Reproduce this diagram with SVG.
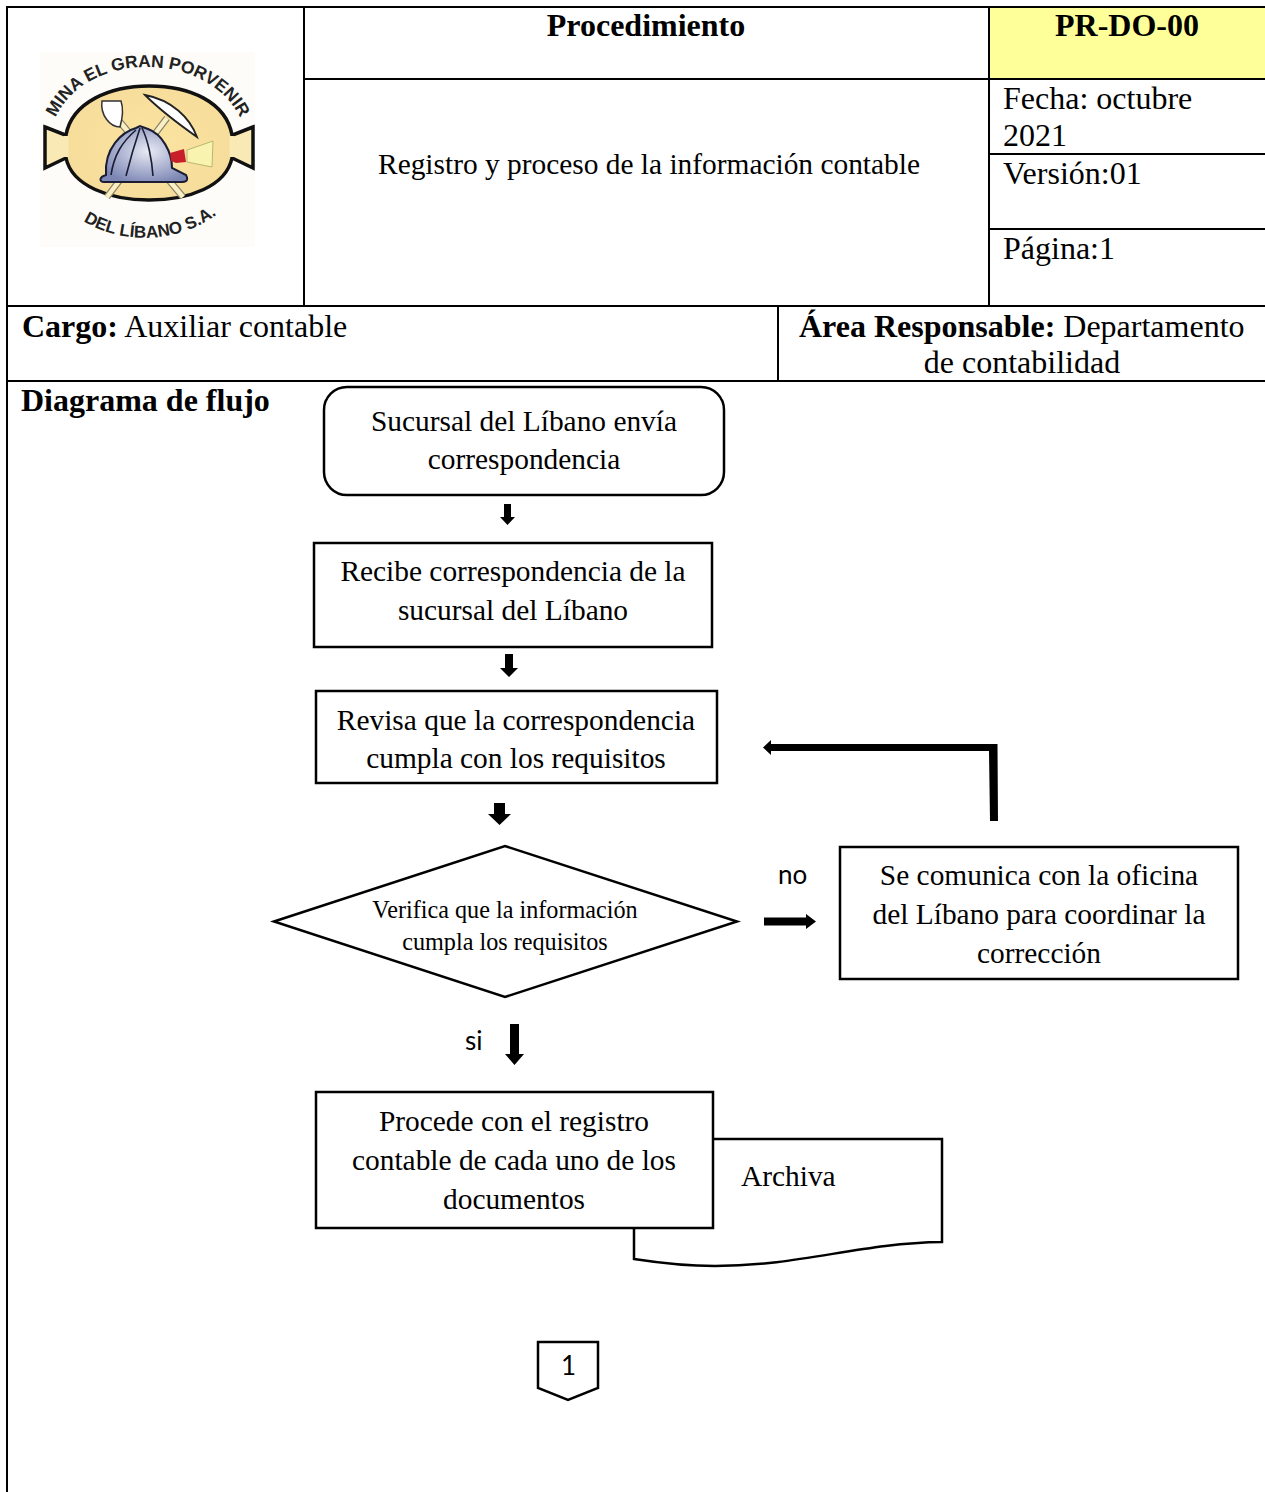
<svg xmlns="http://www.w3.org/2000/svg" width="1265" height="1492" viewBox="0 0 1265 1492">
<style>
.t{font-family:"Liberation Serif","Times New Roman",serif;font-size:29.4px;fill:#000}
.h{font-size:32px}
.m{text-anchor:middle}
.b{font-weight:bold}
.c{font-family:Lato,"Liberation Sans",sans-serif;font-size:26px;fill:#000}
.g{stroke:#000;stroke-width:2;fill:none}
.n{stroke:#000;stroke-width:2.5;fill:#fff}
.lg{font-family:"Liberation Sans",Arial,sans-serif;font-weight:bold;font-size:17.4px;fill:#222}
</style>
<defs>
<radialGradient id="gold" cx="0.5" cy="0.5" r="0.6"><stop offset="0" stop-color="#fbe3a0"/><stop offset="1" stop-color="#f6dc9a"/></radialGradient>
<radialGradient id="hat" cx="0.55" cy="0.45" r="0.6"><stop offset="0" stop-color="#e8eaf4"/><stop offset="1" stop-color="#7c86b4"/></radialGradient>
<path id="topArc" d="M53 124 C80 48 213 48 243 124"/>
<path id="botArc" d="M80 219 C120 246 180 244 220 212"/>
</defs>
<rect width="1265" height="1492" fill="#fff"/>
<g id="table" class="g">
<path d="M7 1492V7H1265"/>
<path d="M304 7V306"/>
<path d="M989 7V306"/>
<path d="M304 79H1265"/>
<path d="M989 154H1265"/>
<path d="M989 229H1265"/>
<path d="M7 306H1265"/>
<path d="M778 306V381"/>
<path d="M7 381H1265"/>
</g>
<rect x="990" y="8" width="275" height="70" fill="#ffff99"/>
<g id="header-text">
<text class="t h b m" x="646" y="36">Procedimiento</text>
<text class="t h b m" x="1127" y="36">PR-DO-00</text>
<text class="t m" x="649" y="174">Registro y proceso de la información contable</text>
<text class="t h" x="1003" y="109">Fecha: octubre</text>
<text class="t h" x="1003" y="146">2021</text>
<text class="t h" x="1003" y="184">Versión:01</text>
<text class="t h" x="1003" y="259">Página:1</text>
<text class="t h" x="22" y="337"><tspan class="b">Cargo:</tspan> Auxiliar contable</text>
<text class="t h" x="799" y="337"><tspan class="b">Área Responsable:</tspan> Departamento</text>
<text class="t h m" x="1022" y="373">de contabilidad</text>
<text class="t h b" x="21" y="411">Diagrama de flujo</text>
</g>
<g id="logo">
<rect x="40" y="52" width="215" height="195" fill="#fdfcf8"/>
<path d="M45 127L68 136V157L45 168Z M253 127L230 136V157L253 168Z" fill="#f9e9b4" stroke="#111" stroke-width="3.500"/>
<path d="M66 135C72 102 110 86 149 86C190 86 226 102 232 135V158C226 186 190 200 149 200C110 200 72 186 66 158Z" fill="url(#gold)" stroke="#111" stroke-width="3.500"/>
<path d="M66 136V157M232 136V157" stroke="#f9e9b4" stroke-width="5"/>
<path d="M120 122L183 197M167 118L107 197" stroke="#8b8468" stroke-width="7"/>
<path d="M120 122L183 197M167 118L107 197" stroke="#f8efc4" stroke-width="4.500"/>
<path d="M102 101L121 101C124 110 122 120 120 127C110 127 100 115 102 101Z" fill="#fff" stroke="#333" stroke-width="1.500"/>
<path d="M145 95C172 100 190 118 197 137C180 125 160 110 145 95Z" fill="#fff" stroke="#222" stroke-width="1.800"/>
<path d="M106 175C104 148 122 132 136 128L140 126L148 129C162 134 172 152 172 168L186 175C189 181 186 182 180 182H104C99 182 99 177 106 175Z" fill="url(#hat)" stroke="#1a1d33" stroke-width="2"/>
<path d="M111 175C114 155 122 142 136 130M126 176C130 160 136 140 140 128M153 176C152 160 148 140 142 128" stroke="#1a1d33" stroke-width="1.600" fill="none"/>
<path d="M170 153L184 149L186 162L176 163L171 161Z" fill="#c8202a"/>
<path d="M187 150L213 141L212 167L187 162Z" fill="#f9f3b0" stroke="#b9b870" stroke-width="1"/>
<text class="lg"><textPath href="#topArc" startOffset="50%" text-anchor="middle">MINA EL GRAN PORVENIR</textPath></text>
<text class="lg" style="font-size:17px"><textPath href="#botArc" startOffset="50%" text-anchor="middle">DEL LÍBANO S.A.</textPath></text>
</g>
<g id="connectors" fill="#000">
<path d="M504 504H511V517H515L507.500 525L500 517H504Z"/>
<path d="M505 654H513V668H518L509 677L500 668H505Z"/>
<path d="M494 803H505V814H511L499.500 825L488 814H494Z"/>
<path d="M510 1024H519V1054H524L514.500 1065L505 1054H510Z"/>
<path d="M764 917.500H806V914L816 921.500L806 929V925.500H764Z"/>
<path d="M990 821L989 751H771V755L763 747.500L771 740V744H997.500L998 821Z"/>
</g>
<g id="n1"><rect class="n" x="324" y="387" width="400" height="108" rx="23"/>
<text class="t m" x="524" y="431">Sucursal del Líbano envía</text><text class="t m" x="524" y="469">correspondencia</text></g>
<g id="n2"><rect class="n" x="314" y="543" width="398" height="104"/>
<text class="t m" x="513" y="581">Recibe correspondencia de la</text><text class="t m" x="513" y="620">sucursal del Líbano</text></g>
<g id="n3"><rect class="n" x="316" y="691" width="401" height="92"/>
<text class="t m" x="516" y="730">Revisa que la correspondencia</text><text class="t m" x="516" y="768">cumpla con los requisitos</text></g>
<g id="n4"><path class="n" d="M274 921.500L505 846L737 921.500L505 997Z"/>
<text class="t m" style="font-size:24.200px" x="505" y="918">Verifica que la información</text><text class="t m" style="font-size:24.200px" x="505" y="950">cumpla los requisitos</text></g>
<g id="n5"><rect class="n" x="840" y="847" width="398" height="132"/>
<text class="t m" x="1039" y="885">Se comunica con la oficina</text><text class="t m" x="1039" y="924">del Líbano para coordinar la</text><text class="t m" x="1039" y="963">corrección</text></g>
<g id="n7"><path class="n" d="M634 1139H942V1242C860 1243 800 1266 715 1266C690 1266 660 1263 634 1259Z"/>
<text class="t" x="741" y="1186">Archiva</text></g>
<g id="n6"><rect class="n" x="316" y="1092" width="397" height="136"/>
<text class="t m" x="514" y="1131">Procede con el registro</text><text class="t m" x="514" y="1170">contable de cada uno de los</text><text class="t m" x="514" y="1209">documentos</text></g>
<g id="n8"><path class="n" d="M538 1342H598V1388L568 1400L538 1388Z"/>
<text class="c m" x="568.500" y="1375">1</text></g>
<g id="labels">
<text class="c" x="778" y="884">no</text>
<text class="c" x="465" y="1050">si</text>
</g>
</svg>
